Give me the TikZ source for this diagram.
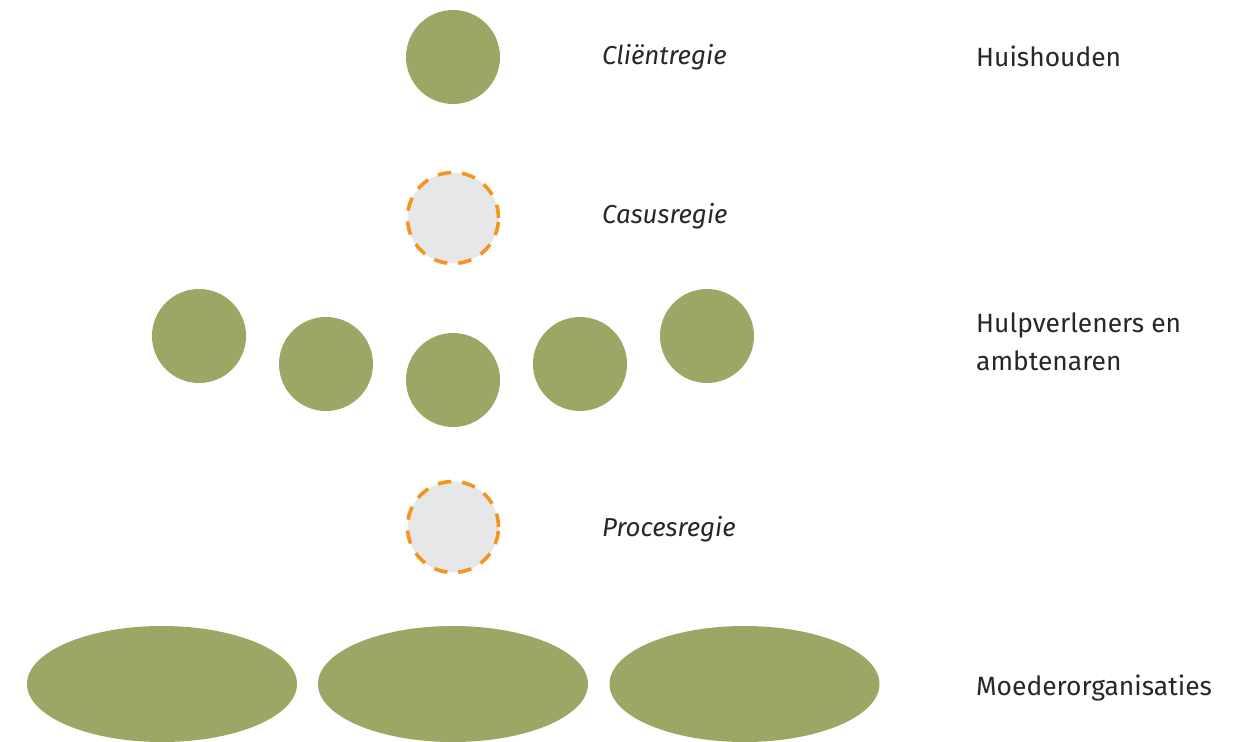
\documentclass[tikz,border=0pt]{standalone}
\usepackage{fontspec}
\setmainfont{Fira Sans}
\usetikzlibrary{shapes.geometric}
\definecolor{olive}{RGB}{155,168,101}
\definecolor{lightgrey}{RGB}{230,231,232}
\definecolor{regieorange}{RGB}{247,148,29}
\definecolor{ink}{RGB}{40,38,38}
\tikzset{
  actor/.style={circle, fill=olive, minimum size=94bp, inner sep=0pt},
  regie/.style={circle, fill=lightgrey, draw=regieorange, line width=3.6bp,
    dash pattern=on 13.5bp off 10.9bp, minimum size=91bp, inner sep=0pt},
  org/.style={ellipse, fill=olive, minimum width=270bp, minimum height=116bp, inner sep=0pt},
  role/.style={anchor=west, font=\fontsize{26}{31}\selectfont\itshape, text=ink, inner sep=0pt},
  level/.style={anchor=west, align=left, font=\fontsize{26.5}{38}\selectfont, text=ink, inner sep=0pt}
}
\begin{document}
\begin{tikzpicture}[x=1bp, y=-1bp]
  \useasboundingbox (0,0) rectangle (1249,742);
  % household
  \node[actor] (client) at (453,57) {};
  \node[regie] (casus) at (453,218) {};
  % professionals
  \node[actor] (p1) at (199,336) {};
  \node[actor] (p2) at (326,364) {};
  \node[actor] (p3) at (453,380) {};
  \node[actor] (p4) at (580,364) {};
  \node[actor] (p5) at (707,336) {};
  \node[regie] (proces) at (453,527) {};
  % parent organisations
  \node[org] (o1) at (162,684) {};
  \node[org] (o2) at (453,684) {};
  \node[org] (o3) at (744.5,684) {};
  % role labels
  \node[role] (lclient) at (602,57) {Cliëntregie};
  \node[role] (lcasus) at (602,216) {Casusregie};
  \node[role] (lproces) at (602,529) {Procesregie};
  % level labels
  \node[level] (lhuis) at (976,56) {Huishouden};
  \node[level] (lhulp) at (976,342) {Hulpverleners en\\ambtenaren};
  \node[level] (lmoeder) at (976,688) {Moederorganisaties};
\end{tikzpicture}
\end{document}
